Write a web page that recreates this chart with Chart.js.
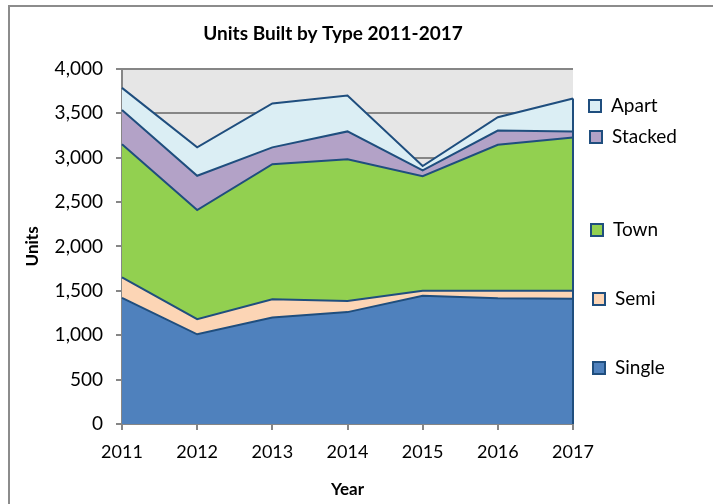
<!DOCTYPE html>
<html>
<head>
<meta charset="utf-8">
<script src="https://cdn.jsdelivr.net/npm/chart.js@4.4.0/dist/chart.umd.min.js"></script>
<style>
  html, body { margin: 0; padding: 0; background: #fff; }
</style>
</head>
<body>
<canvas id="chart" width="713" height="504"></canvas>
<script>
// data (stacked, bottom to top)
var years = ['2011', '2012', '2013', '2014', '2015', '2016', '2017'];
var single  = [1420, 1010, 1200, 1260, 1445, 1415, 1410];
var semi    = [230, 170, 205, 125, 55, 85, 90];
var town    = [1500, 1230, 1520, 1595, 1290, 1645, 1725];
var stacked = [385, 385, 190, 315, 65, 160, 70];
var apart   = [250, 320, 495, 405, 50, 150, 370];
var seriesNames  = ['Single', 'Semi', 'Town', 'Stacked', 'Apart'];
var seriesValues = [single, semi, town, stacked, apart];
var seriesColors = ['#4F81BD', '#FCD5B5', '#92D050', '#B3A2C7', '#DBEEF4'];

var outline = '#1F4E7E';
var axisGray = '#868686';

// gray plot area + frame of the chart object
var backdrop = {
  id: 'backdrop',
  beforeDraw: function(chart) {
    var ctx = chart.ctx, a = chart.chartArea;
    ctx.save();
    ctx.fillStyle = '#fff';
    ctx.fillRect(0, 0, chart.width, chart.height);
    ctx.strokeStyle = '#8c8c8c';
    ctx.lineWidth = 2;
    ctx.beginPath();
    ctx.moveTo(9, chart.height);
    ctx.lineTo(9, 6);
    ctx.lineTo(chart.width, 6);
    ctx.stroke();
    ctx.fillStyle = '#e6e6e6';
    ctx.fillRect(a.left, a.top, a.right - a.left, a.bottom - a.top);
    ctx.restore();
  }
};

// closing edge of the areas at the last year
var rightEdge = {
  id: 'rightEdge',
  afterDatasetsDraw: function(chart) {
    var xs = chart.scales.x, ys = chart.scales.y;
    var last = years.length - 1;
    var total = 0;
    seriesValues.forEach(function(v) { total += v[last]; });
    var x = xs.getPixelForValue(last);
    var ctx = chart.ctx;
    ctx.save();
    ctx.strokeStyle = outline;
    ctx.lineWidth = 2;
    ctx.beginPath();
    ctx.moveTo(x, ys.getPixelForValue(total));
    ctx.lineTo(x, ys.getPixelForValue(0));
    ctx.stroke();
    ctx.restore();
  }
};

// Excel style legend, entries spread down the right side
var sideLegend = {
  id: 'sideLegend',
  afterDraw: function(chart) {
    var ctx = chart.ctx;
    var spots = [[593, 368], [593, 299], [591, 230], [590, 137], [589, 106]];
    ctx.save();
    ctx.font = '19px Lato';
    ctx.textBaseline = 'middle';
    for (var i = 0; i < seriesNames.length; i++) {
      var bx = spots[i][0], by = spots[i][1];
      ctx.fillStyle = seriesColors[i];
      ctx.fillRect(bx, by - 6, 12, 12);
      ctx.strokeStyle = outline;
      ctx.lineWidth = 2;
      ctx.strokeRect(bx, by - 6, 12, 12);
      ctx.fillStyle = '#000';
      ctx.fillText(seriesNames[i], bx + 22, by);
    }
    ctx.restore();
  }
};

var datasets = seriesNames.map(function(name, i) {
  return {
    label: name,
    data: seriesValues[i],
    backgroundColor: seriesColors[i],
    borderColor: outline,
    borderWidth: 2,
    fill: i === 0 ? 'origin' : '-1',
    pointRadius: 0,
    tension: 0
  };
});

new Chart(document.getElementById('chart'), {
  type: 'line',
  data: { labels: years, datasets: datasets },
  plugins: [backdrop, rightEdge, sideLegend],
  options: {
    responsive: false,
    animation: false,
    devicePixelRatio: 1,
    layout: { padding: { left: 10, right: 57, top: 0, bottom: 0 } },
    plugins: {
      legend: { display: false },
      tooltip: { enabled: false },
      title: {
        display: true,
        text: 'Units Built by Type 2011-2017',
        color: '#000',
        font: { family: 'Lato', size: 19, weight: 'bold', lineHeight: 1.2 },
        padding: { top: 22, bottom: 24 }
      }
    },
    scales: {
      x: {
        type: 'category',
        offset: false,
        grid: { drawOnChartArea: false, color: axisGray, lineWidth: 2, tickLength: 6 },
        border: { color: axisGray, width: 2 },
        ticks: { color: '#000', font: { family: 'Lato', size: 18 }, padding: 11, maxRotation: 0 },
        title: {
          display: true, text: 'Year', color: '#000',
          font: { family: 'Lato', size: 17, weight: 'bold' },
          padding: { bottom: 4 }
        },
        afterFit: function(s) { s.height = 80; }
      },
      y: {
        stacked: true,
        min: 0,
        max: 4000,
        grid: { color: axisGray, lineWidth: 2, tickLength: 6 },
        border: { color: axisGray, width: 2 },
        ticks: { stepSize: 500, color: '#000', font: { family: 'Lato', size: 19 }, padding: 13 },
        title: {
          display: true, text: 'Units', color: '#000',
          font: { family: 'Lato', size: 17, weight: 'bold' },
          padding: { top: 12 }
        },
        afterFit: function(s) { s.width = 112; }
      },
      yR: {
        position: 'right',
        display: true,
        grid: { display: false },
        border: { display: false },
        ticks: { display: false },
        afterFit: function(s) { s.width = 83; }
      }
    }
  }
});
</script>
</body>
</html>
